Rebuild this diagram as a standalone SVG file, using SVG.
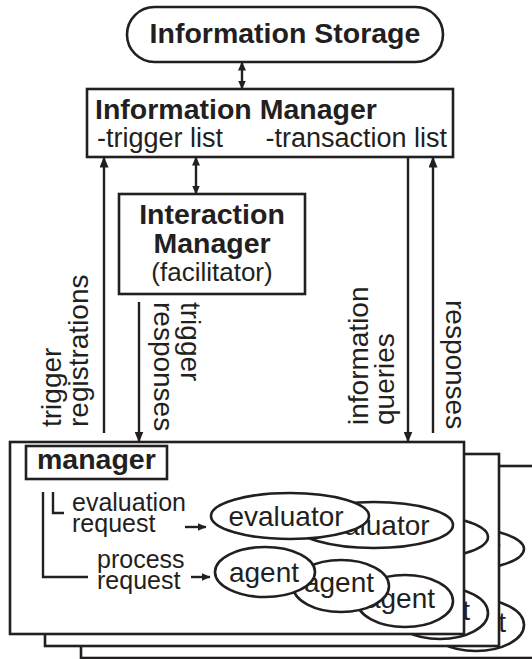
<svg xmlns="http://www.w3.org/2000/svg" width="532" height="659" viewBox="0 0 532 659">
<defs>
<style>
.box{fill:#fff;stroke:#231f20;stroke-width:2.6}
.ln{fill:none;stroke:#231f20;stroke-width:2.4}
.t{font-family:"Liberation Sans",Arial,Helvetica,sans-serif;fill:#231f20}
.b{font-weight:bold;font-size:28.5px}
.r{font-size:27px}
.rot{font-size:28px}
.s{font-size:25px}
.el{font-size:28px;text-anchor:middle}
.mid{text-anchor:middle}
</style>
<marker id="ah" viewBox="0 0 11 9" refX="10.5" refY="4.5" markerWidth="11" markerHeight="9" markerUnits="userSpaceOnUse" orient="auto-start-reverse"><path d="M0,0 L11,4.5 L0,9 z" fill="#231f20"/></marker>
<marker id="ahs" viewBox="0 0 9 8" refX="8.5" refY="4" markerWidth="9" markerHeight="8" markerUnits="userSpaceOnUse" orient="auto-start-reverse"><path d="M0,0 L9,4 L0,8 z" fill="#231f20"/></marker>
</defs>
<rect width="532" height="659" fill="#fff"/>

<g id="information-storage">
<rect class="box" x="127" y="7" width="316" height="55" rx="27.5"/>
<text class="t b mid" x="285" y="43">Information Storage</text>
</g>

<g id="information-manager">
<rect class="box" x="87" y="89" width="366" height="68"/>
<text class="t b" x="95" y="119">Information Manager</text>
<text class="t r" x="97" y="147">-trigger list</text>
<text class="t r" x="447" y="147" text-anchor="end">-transaction list</text>
</g>

<g id="interaction-manager">
<rect class="box" x="119" y="194" width="186" height="100"/>
<text class="t b mid" x="212" y="224">Interaction</text>
<text class="t b mid" x="212" y="253">Manager</text>
<text class="t mid" x="212" y="281" font-size="26">(facilitator)</text>
</g>

<use href="#manager-stack" transform="translate(71,24)"/>
<use href="#manager-stack" transform="translate(35,12)"/>
<g id="manager-stack">
<rect class="box" x="10" y="442" width="454" height="192"/>
<g id="manager">
<rect class="box" x="26" y="446" width="141" height="33" stroke-width="3"/>
<text class="t b" x="37" y="469">manager</text>
</g>
<text class="t s" x="72" y="511">evaluation</text>
<text class="t s" x="72" y="532">request</text>
<text class="t s" x="97" y="568">process</text>
<text class="t s" x="97" y="589">request</text>
<g id="evaluator-2">
<ellipse class="box" cx="374" cy="525" rx="79" ry="23"/>
<text class="t el" x="372" y="535">evaluator</text>
</g>
<g id="evaluator-1">
<ellipse class="box" cx="290" cy="516" rx="79" ry="23"/>
<text class="t el" x="286" y="526">evaluator</text>
</g>
<g id="agent-3">
<ellipse class="box" cx="405" cy="601" rx="48" ry="26"/>
<text class="t el" x="400" y="608">agent</text>
</g>
<g id="agent-2">
<ellipse class="box" cx="341" cy="586" rx="48" ry="26"/>
<text class="t el" x="339" y="592">agent</text>
</g>
<g id="agent-1">
<ellipse class="box" cx="265" cy="572" rx="50" ry="25"/>
<text class="t el" x="264" y="582">agent</text>
</g>
</g>

<g id="connectors">
<line class="ln" x1="242" y1="62" x2="242" y2="89" marker-start="url(#ahs)" marker-end="url(#ahs)"/>
<line class="ln" x1="196" y1="157" x2="196" y2="194" marker-start="url(#ahs)" marker-end="url(#ahs)"/>
<line class="ln" x1="104" y1="433" x2="104" y2="157" marker-end="url(#ah)"/>
<line class="ln" x1="139" y1="302" x2="139" y2="442" marker-end="url(#ah)"/>
<line class="ln" x1="408" y1="157" x2="408" y2="442" marker-end="url(#ah)"/>
<line class="ln" x1="433" y1="433" x2="433" y2="157" marker-end="url(#ah)"/>
<path class="ln" d="M43,492 V577 H88 M53,492 V513 H64"/>
<line class="ln" x1="185" y1="527" x2="206" y2="527" marker-end="url(#ahs)"/>
<line class="ln" x1="191" y1="577" x2="210" y2="577" marker-end="url(#ahs)"/>
<text class="t rot" transform="translate(61,427) rotate(-90)"><tspan x="0" y="0">trigger</tspan><tspan x="0" y="27">registrations</tspan></text>
<text class="t rot" transform="translate(181,302) rotate(90)"><tspan x="0" y="0">trigger</tspan><tspan x="0" y="27">responses</tspan></text>
<text class="t rot" transform="translate(368,425) rotate(-90)"><tspan x="0" y="0">information</tspan><tspan x="0" y="26">queries</tspan></text>
<text class="t rot" transform="translate(446,300) rotate(90)">responses</text>
</g>
</svg>
